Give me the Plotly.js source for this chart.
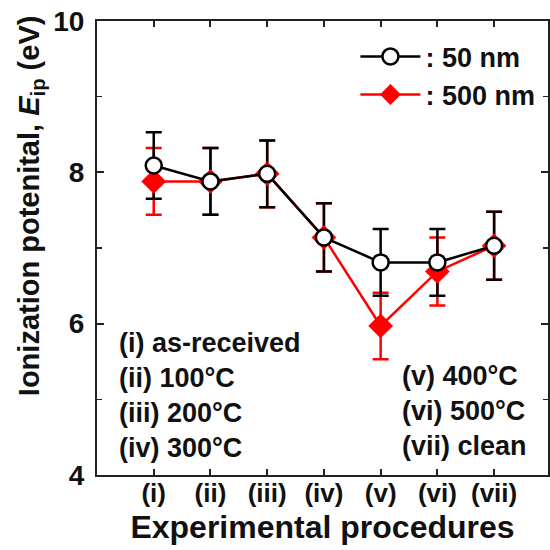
<!DOCTYPE html>
<html>
<head>
<meta charset="utf-8">
<script src="https://cdn.plot.ly/plotly-3.0.1.min.js"></script>
<style>html,body{margin:0;padding:0;background:#fff;}</style>
</head>
<body>
<div id="chart" style="width:550px;height:550px;"></div>
<script>
// Data
const procedures = ["(i)", "(ii)", "(iii)", "(iv)", "(v)", "(vi)", "(vii)"];
const eip50 = [8.09, 7.88, 7.98, 7.14, 6.81, 6.81, 7.03];
const err50 = [0.44, 0.44, 0.44, 0.45, 0.44, 0.44, 0.45];
const eip500 = [7.88, 7.88, 7.98, 7.14, 5.97, 6.69, 7.03];
const err500 = [0.44, 0.44, 0.44, 0.45, 0.44, 0.45, 0.45];
const legendNames = [": 50 nm", ": 500 nm"];
const leftNotes = ["(i) as-received", "(ii) 100°C", "(iii) 200°C", "(iv) 300°C"];
const rightNotes = ["(v) 400°C", "(vi) 500°C", "(vii) clean"];

const FONT = "Liberation Sans, Arial, sans-serif";

function errTrace(yvals, errs, color) {
  return {
    x: procedures, y: yvals, type: "scatter", mode: "markers",
    marker: {opacity: 0, size: 2},
    error_y: {type: "data", array: errs, visible: true, color: color, thickness: 2.5, width: 8},
    showlegend: false, hoverinfo: "skip"
  };
}

const traces = [
  errTrace(eip500, err500, "#ff0000"),
  errTrace(eip50, err50, "#000000"),
  {
    x: procedures, y: eip500, type: "scatter", mode: "lines+markers", name: legendNames[1],
    line: {color: "#ff0000", width: 2.5},
    marker: {symbol: "diamond", size: 19, color: "#ff0000"},
    legendrank: 2
  },
  {
    x: procedures, y: eip50, type: "scatter", mode: "lines+markers", name: legendNames[0],
    line: {color: "#000", width: 2.5},
    marker: {symbol: "circle", size: 16, color: "#fff", line: {color: "#000", width: 2.5}},
    legendrank: 1
  }
];

const layout = {
  width: 550, height: 550,
  margin: {l: 97, r: 2, t: 21, b: 75},
  paper_bgcolor: "#fff", plot_bgcolor: "#fff",
  font: {family: FONT, color: "#111", weight: "bold"},
  showlegend: true,
  legend: {
    x: 0.573, y: 0.975, xanchor: "left", yanchor: "top",
    bgcolor: "rgba(0,0,0,0)", borderwidth: 0,
    font: {family: FONT, size: 27, weight: "bold", color: "#111"},
    itemwidth: 60, tracegroupgap: 0
  },
  xaxis: {
    type: "category", categoryarray: procedures,
    range: [-1.0, 6.95],
    showline: true, linecolor: "#222", linewidth: 2, mirror: "ticks",
    ticks: "inside", ticklen: 6, tickwidth: 2, tickcolor: "#222",
    showgrid: false, zeroline: false,
    tickfont: {family: FONT, size: 26, weight: "bold", color: "#111"},
    ticklabelstandoff: -6,
    title: {text: "Experimental procedures", font: {family: FONT, size: 32, weight: "bold", color: "#111"}, standoff: 8}
  },
  yaxis: {
    range: [4, 10], dtick: 2, tick0: 4,
    showline: true, linecolor: "#222", linewidth: 2, mirror: "ticks",
    ticks: "inside", ticklen: 7, tickwidth: 2, tickcolor: "#222",
    minor: {dtick: 1, ticks: "inside", ticklen: 5, tickwidth: 1.5, tickcolor: "#222", showgrid: false},
    showgrid: false, zeroline: false,
    tickfont: {family: FONT, size: 28, weight: "bold", color: "#111"},
    ticklabelstandoff: 5
  },
  annotations: [
    {
      xref: "paper", yref: "paper", x: -0.146, y: 0.5925, xanchor: "center", yanchor: "middle",
      textangle: -90, showarrow: false,
      text: "Ionization potenital, <i>E</i><sub>ip</sub> (eV)",
      font: {family: FONT, size: 29, weight: "bold", color: "#111"}
    },
    {
      xref: "paper", yref: "paper", x: 0.044, y: 0.176, xanchor: "left", yanchor: "middle", align: "left",
      showarrow: false, text: leftNotes.join("<br>"),
      font: {family: FONT, size: 27, weight: "bold", color: "#111"}
    },
    {
      xref: "paper", yref: "paper", x: 0.672, y: 0.14, xanchor: "left", yanchor: "middle", align: "left",
      showarrow: false, text: rightNotes.join("<br>"),
      font: {family: FONT, size: 27, weight: "bold", color: "#111"}
    }
  ]
};

Plotly.newPlot("chart", traces, layout, {displayModeBar: false, staticPlot: true});
</script>
</body>
</html>
